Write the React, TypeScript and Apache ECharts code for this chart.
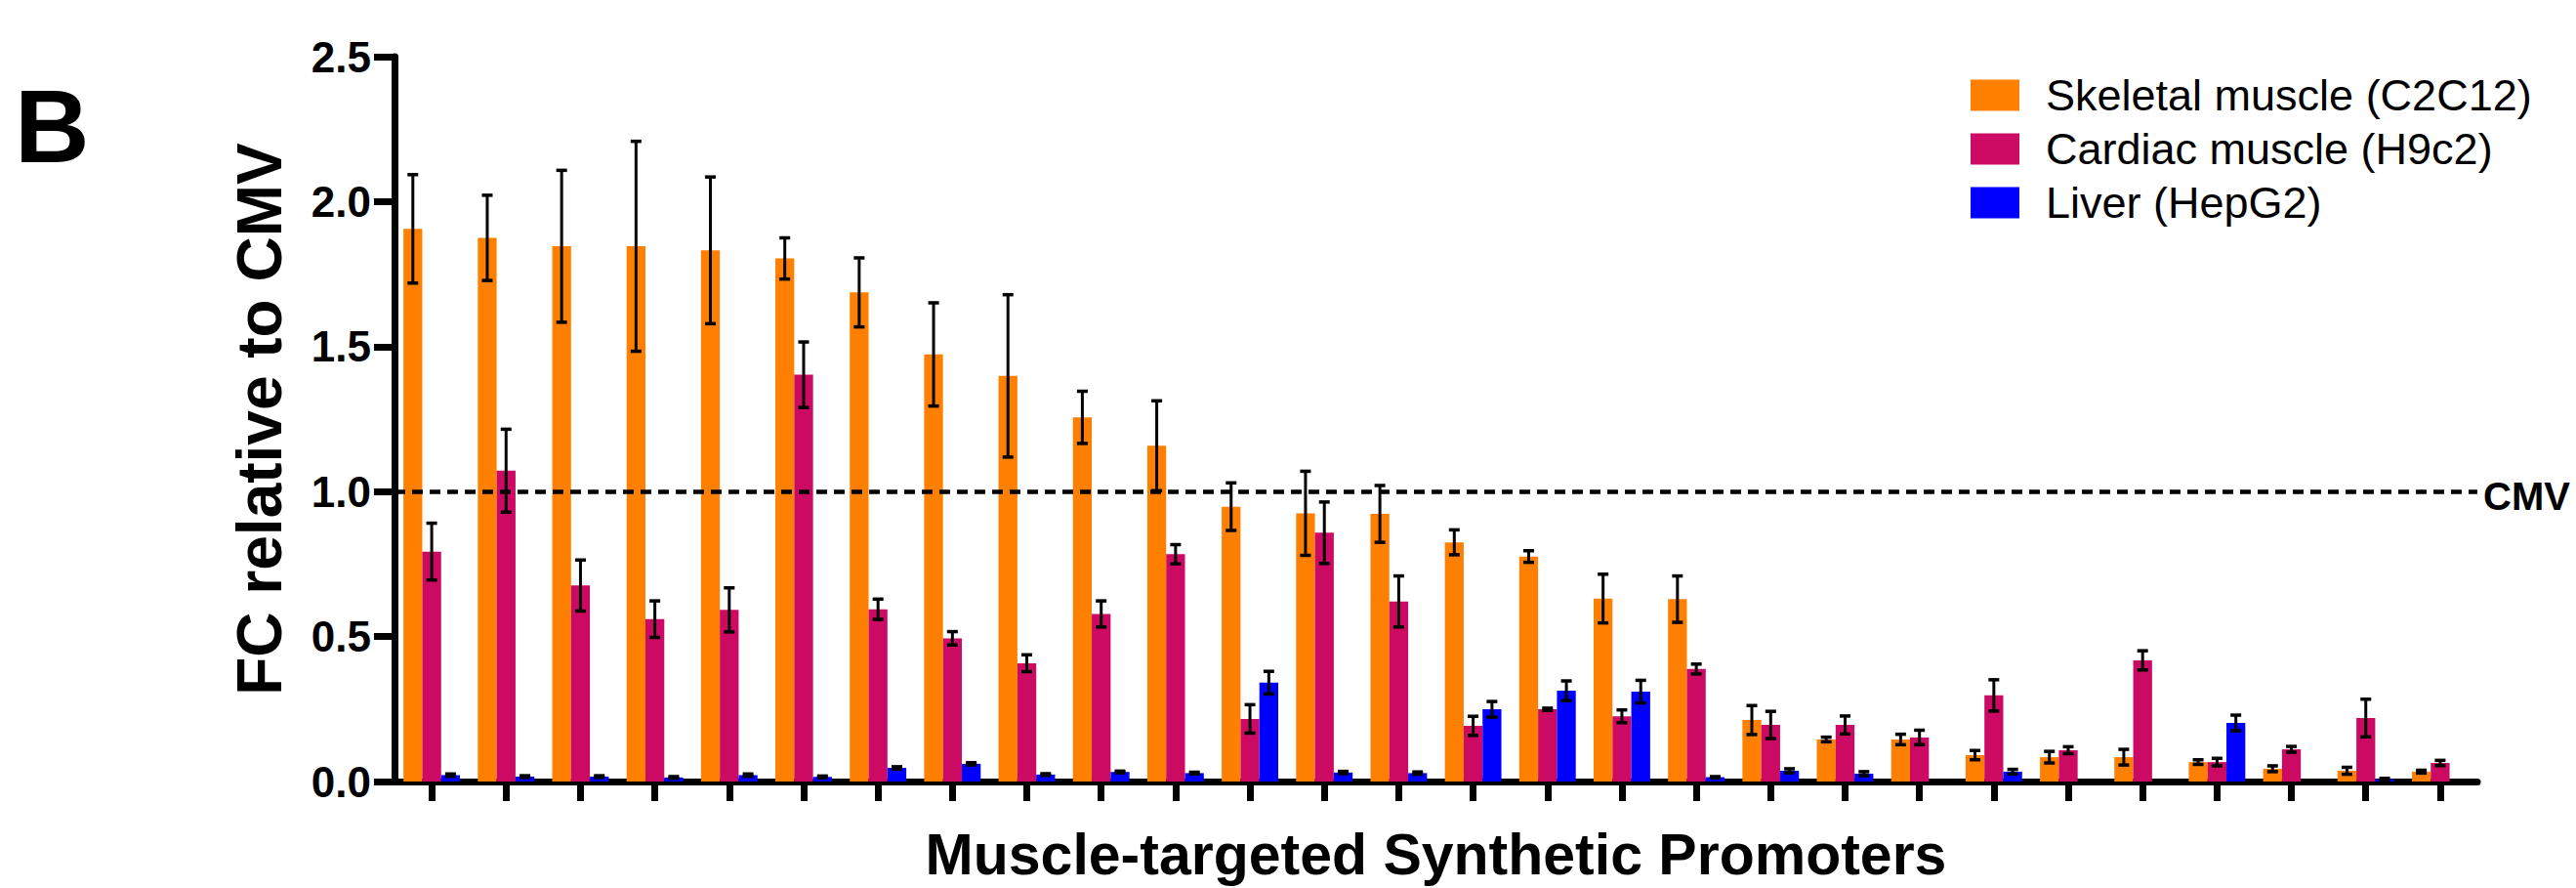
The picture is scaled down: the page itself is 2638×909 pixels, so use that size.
import React, { useEffect, useRef } from "react";
import * as echarts from "echarts";

const categories = Array.from({ length: 28 }, (_, i) => `P${i + 1}`);
const seriesNames = ["Skeletal muscle (C2C12)", "Cardiac muscle (H9c2)", "Liver (HepG2)"];
const seriesColors = ["#FF8000", "#CC0A64", "#0000FF"];

const skeletal = [1.906, 1.875, 1.846, 1.846, 1.832, 1.804, 1.687, 1.473, 1.399, 1.256, 1.158, 0.948, 0.925, 0.923, 0.825, 0.776, 0.631, 0.629, 0.212, 0.145, 0.145, 0.091, 0.084, 0.084, 0.067, 0.044, 0.037, 0.034];
const skeletalErr = [0.187, 0.147, 0.262, 0.362, 0.253, 0.071, 0.119, 0.178, 0.28, 0.09, 0.155, 0.082, 0.145, 0.098, 0.043, 0.02, 0.084, 0.08, 0.05, 0.008, 0.018, 0.016, 0.02, 0.027, 0.008, 0.01, 0.012, 0.005];

const cardiac = [0.793, 1.072, 0.676, 0.56, 0.592, 1.403, 0.594, 0.494, 0.408, 0.578, 0.784, 0.216, 0.858, 0.621, 0.192, 0.249, 0.225, 0.388, 0.195, 0.195, 0.152, 0.297, 0.108, 0.418, 0.067, 0.111, 0.219, 0.064];
const cardiacErr = [0.098, 0.143, 0.088, 0.063, 0.076, 0.113, 0.035, 0.023, 0.029, 0.045, 0.033, 0.049, 0.106, 0.088, 0.033, 0.004, 0.022, 0.017, 0.047, 0.031, 0.025, 0.054, 0.012, 0.033, 0.013, 0.01, 0.065, 0.009];

const liver: (number | null)[] = [0.022, 0.017, 0.017, 0.014, 0.022, 0.016, 0.047, 0.061, 0.024, 0.033, 0.029, 0.341, 0.031, 0.029, 0.249, 0.313, 0.31, 0.015, 0.037, 0.027, null, 0.034, null, null, 0.202, null, 0.008, null];
const liverErr = [0.004, 0.003, 0.003, 0.003, 0.004, 0.003, 0.004, 0.004, 0.003, 0.003, 0.003, 0.039, 0.004, 0.004, 0.027, 0.034, 0.039, 0.002, 0.007, 0.007, 0, 0.008, 0, 0, 0.027, 0, 0.003, 0];

const yTicks = { min: 0, max: 2.5, interval: 0.5 };
const cmvLevel = 1.0;

const FONT = "'Liberation Sans', Arial, Helvetica, sans-serif";
const CAT_GAP = 0.24;

const allValues = [skeletal, cardiac, liver];
const allErrs = [skeletalErr, cardiacErr, liverErr];

export default function App() {
  const ref = useRef<HTMLDivElement>(null);

  useEffect(() => {
    if (!ref.current) return;
    const chart = echarts.init(ref.current, null, { renderer: "svg" });

    const barSeries: any[] = allValues.map((vals, idx) => {
      const s: any = {
        name: seriesNames[idx],
        type: "bar",
        data: vals,
        barGap: "0%",
        barCategoryGap: `${CAT_GAP * 100}%`,
        itemStyle: { color: seriesColors[idx] },
        z: 2,
      };
      if (idx === 0) {
        s.markLine = {
          silent: true,
          symbol: ["none", "none"],
          lineStyle: { color: "#000", width: 4.5, type: [11, 7] },
          label: {
            show: true,
            position: "end",
            formatter: "CMV",
            distance: 6,
            fontFamily: FONT,
            fontWeight: "bold",
            fontSize: 40,
            color: "#000",
            offset: [0, 5],
          },
          data: [{ yAxis: cmvLevel }],
          z: 5,
        };
      }
      return s;
    });

    const errSeries: any[] = allValues.map((vals, idx) => ({
      name: "err-" + idx,
      type: "custom",
      z: 10,
      encode: { x: 0, y: 1 },
      data: vals
        .map((v, i) => (v == null ? null : [i, v, allErrs[idx][i]]))
        .filter((d) => d !== null),
      renderItem: (params: any, api: any) => {
        const cat = api.value(0);
        const v = api.value(1);
        const e = api.value(2);
        const band = api.size([1, 0])[0];
        const barW = (band * (1 - CAT_GAP)) / 3;
        const c = api.coord([cat, v]);
        const x = c[0] + (idx - 1) * barW;
        const yTop = api.coord([cat, v + e])[1];
        const yBot = api.coord([cat, Math.max(v - e, 0)])[1];
        const cap = 5.5;
        const style = { stroke: "#000", lineWidth: 3 };
        return {
          type: "group",
          children: [
            { type: "line", shape: { x1: x, y1: yTop, x2: x, y2: yBot }, style },
            { type: "line", shape: { x1: x - cap, y1: yTop, x2: x + cap, y2: yTop }, style: { stroke: "#000", lineWidth: 3.5 } },
            { type: "line", shape: { x1: x - cap, y1: yBot, x2: x + cap, y2: yBot }, style: { stroke: "#000", lineWidth: 3.5 } },
          ],
        };
      },
    }));

    chart.setOption({
      animation: false,
      backgroundColor: "#fff",
      textStyle: { fontFamily: FONT },
      grid: { left: 404, right: 101, top: 58, bottom: 109, containLabel: false, outerBoundsMode: "none" },
      legend: {
        data: seriesNames,
        orient: "vertical",
        left: 2013,
        top: 70,
        icon: "rect",
        itemWidth: 50,
        itemHeight: 32,
        itemGap: 10,
        selectedMode: false,
        textStyle: { fontFamily: FONT, fontSize: 45, color: "#000", padding: [0, 0, 0, 22] },
      },
      graphic: [
        {
          type: "text",
          left: 15,
          top: 76,
          style: { text: "B", fontFamily: FONT, fontWeight: "bold", fontSize: 106, fill: "#000" },
        },
      ],
      xAxis: {
        type: "category",
        data: categories,
        name: "Muscle-targeted Synthetic Promoters",
        nameLocation: "middle",
        nameGap: 45,
        nameTextStyle: { fontFamily: FONT, fontWeight: "bold", fontSize: 59, color: "#000" },
        axisLine: { lineStyle: { color: "#000", width: 7 } },
        axisTick: { show: true, alignWithLabel: true, interval: 0, length: 20, lineStyle: { color: "#000", width: 7 } },
        axisLabel: { show: false },
        splitLine: { show: false },
      },
      yAxis: {
        type: "value",
        min: yTicks.min,
        max: yTicks.max,
        interval: yTicks.interval,
        name: "FC relative to CMV",
        nameLocation: "middle",
        nameGap: 106,
        nameTextStyle: { fontFamily: FONT, fontWeight: "bold", fontSize: 64, color: "#000" },
        axisLine: { show: true, lineStyle: { color: "#000", width: 7 } },
        axisTick: { show: true, length: 21, lineStyle: { color: "#000", width: 7 } },
        axisLabel: {
          margin: 24,
          fontFamily: FONT,
          fontWeight: "bold",
          fontSize: 44,
          color: "#000",
          formatter: (v: number) => v.toFixed(1),
        },
        splitLine: { show: false },
      },
      series: [...barSeries, ...errSeries],
    });

    return () => chart.dispose();
  }, []);

  return (
    <div
      ref={ref}
      style={{ position: "fixed", left: 0, top: 0, width: 2638, height: 909, background: "#fff" }}
    />
  );
}
